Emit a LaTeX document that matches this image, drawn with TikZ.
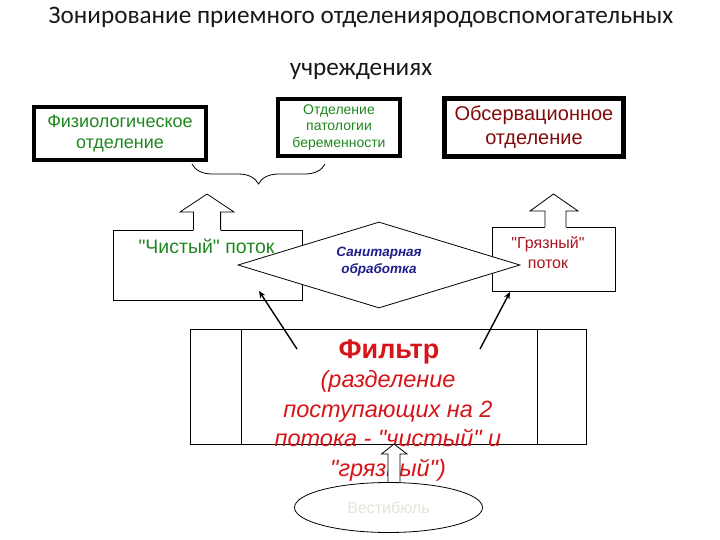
\documentclass[tikz,border=0pt]{standalone}
\usepackage{fontspec}
\setmainfont{Liberation Sans}[Ligatures=TeXOff]
\newfontfamily\titlefont{Carlito}
\usetikzlibrary{shapes.geometric,arrows.meta,decorations.pathreplacing}
\newcommand\sq{\symbol{34}}
\definecolor{greenT}{RGB}{30,135,30}
\definecolor{blueT}{RGB}{30,30,140}
\definecolor{redT}{RGB}{215,20,25}
\definecolor{darkredT}{RGB}{130,10,10}
\definecolor{dirtyT}{RGB}{170,20,30}
\definecolor{vestT}{RGB}{228,228,218}
\definecolor{titleT}{RGB}{25,25,25}
\tikzset{
  thickbox/.style={draw, line width=4pt, inner sep=0pt, align=center},
  flowbox/.style={draw, line width=0.8pt, inner sep=0pt},
  blockarrow/.style={draw, fill=white, line width=0.8pt, line join=miter},
  conn/.style={line width=1.4pt, -{Stealth[length=7pt,width=6pt]}},
  titletext/.style={font=\titlefont\fontsize{25.2}{30}\selectfont, text=titleT}
}
\begin{document}
\begin{tikzpicture}[x=1pt,y=-1pt]
\useasboundingbox (0,0) rectangle (720,540);
% title
\node[titletext] (t1) at (361,17) {Зонирование приемного отделенияродовспомогательных};
\node[titletext] (t2) at (361,71) {учреждениях};
% top boxes
\node[thickbox, minimum width=172pt, minimum height=53pt, text=greenT,
      font=\fontsize{18}{21}\selectfont] (phys) at (120,133.5) {Физиологическое\\отделение};
\node[thickbox, minimum width=122pt, minimum height=57pt, text=greenT,
      font=\fontsize{14}{16.5}\selectfont] (path) at (339,127.5) {Отделение\\патологии\\беременности};
\node[draw, line width=5pt, inner sep=0pt, align=center, minimum width=179pt, minimum height=58pt, text=darkredT,
      font=\fontsize{20}{24}\selectfont] (obs) at (534,127.5) {Обсервационное\\отделение};
% brace
\coordinate (b1) at (192,164);
\coordinate (b2) at (325,164);
\draw[line width=0.8pt, decorate, decoration={brace, amplitude=20pt, mirror}] (b1) -- (b2);
% clean flow box
\node[flowbox, minimum width=189pt, minimum height=70pt] (clean) at (207.5,265) {};
\fill[white] (193.4,231) -- (193.4,212) -- (180,212) -- (207,194) -- (234,212) -- (220.6,212) -- (220.6,231) -- cycle;
\draw[blockarrow, fill=none] (193.4,230) -- (193.4,212) -- (180,212) -- (207,194) -- (234,212) -- (220.6,212) -- (220.6,230);
\node[text=greenT, font=\fontsize{19.5}{23}\selectfont, anchor=west] (cleanT) at (135,246) {\sq Чистый\sq{} поток};
% dirty flow box
\node[flowbox, minimum width=123pt, minimum height=64pt] (dirty) at (553.5,259) {};
\fill[white] (545,228) -- (545,211) -- (530,211) -- (553.5,194) -- (578,211) -- (566,211) -- (566,228) -- cycle;
\draw[blockarrow, fill=none] (545,227) -- (545,211) -- (530,211) -- (553.5,194) -- (578,211) -- (566,211) -- (566,227);
% sanitary diamond
\node[diamond, draw, fill=white, line width=0.8pt, inner sep=0pt, minimum width=282pt, minimum height=86pt] (san) at (379,265) {};
\node[text=blueT, font=\bfseries\itshape\fontsize{13.5}{17}\selectfont, align=center] (sanT) at (379,262) {Санитарная\\обработка};
\node[text=dirtyT, font=\fontsize{16}{20}\selectfont, align=center] (dirtyT) at (548,253) {\sq Грязный\sq\\поток};
% filter
\node[flowbox, minimum width=396pt, minimum height=115pt] (filt) at (388.5,386.5) {};
\draw[line width=0.8pt] (241,329) -- (241,444);
\draw[line width=0.8pt] (537,329) -- (537,444);
\node[text=redT, font=\bfseries\fontsize{27}{30}\selectfont] (filtT) at (389,352) {Фильтр};
\node[text=redT, font=\itshape\fontsize{23.5}{29.5}\selectfont, align=center, anchor=north] (filtD) at (388,367)
  {(разделение\\поступающих на 2\\потока - \sq чистый\sq{} и\\\sq грязный\sq)};
% connectors
\coordinate (c1) at (297,349);
\coordinate (c1e) at (259,291);
\coordinate (c2) at (480,349);
\coordinate (c2e) at (510,292);
\draw[conn] (c1) -- (c1e);
\draw[conn] (c2) -- (c2e);
% vestibule arrow
\draw[blockarrow] (388,484) -- (388,454) -- (381.5,454) -- (394,444) -- (407,454) -- (400,454) -- (400,484);
\node[ellipse, draw, fill=white, line width=0.8pt, minimum width=188pt, minimum height=50pt, inner sep=0pt,
      text=vestT, font=\fontsize{16}{19}\selectfont] (vest) at (388.5,507.5) {Вестибюль};
\end{tikzpicture}
\end{document}
